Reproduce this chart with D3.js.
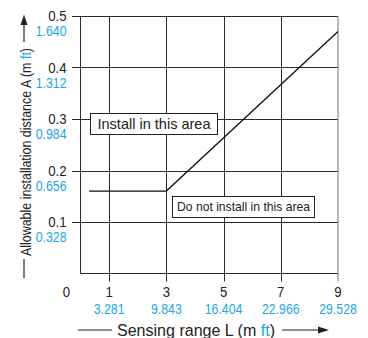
<!DOCTYPE html>
<html lang="en">
<head>
<meta charset="UTF-8" />
<title>Sensing range chart</title>
<style>
  * { margin: 0; padding: 0; }
  body { background: #fff; }
  svg { display: block; font-family: 'Liberation Sans', Arial, sans-serif; }
</style>
</head>
<body>
<svg id="chart" width="368" height="338"></svg>
<script src="https://d3js.org/d3.v7.min.js"></script>
<script>
// data
const xTicks = [1, 3, 5, 7, 9];
const xFtLabels = ['3.281', '9.843', '16.404', '22.966', '29.528'];
const yTicks = [0.1, 0.2, 0.3, 0.4, 0.5];
const yFtLabels = ['0.328', '0.656', '0.984', '1.312', '1.640'];
const lineX = [0.3, 3, 9];
const lineY = [0.16, 0.16, 0.47];

const blue = '#22a5e4';
const svg = d3.select('#chart');

const x = d3.scaleLinear().domain([0, 9]).range([80.5, 338]);
const y = d3.scaleLinear().domain([0, 0.5]).range([273.5, 16]);

// text squeezed horizontally, the source font is a bit narrow
function label(g, str, px, py, size, anchor, color, sx) {
  return g.append('text')
    .attr('transform', `translate(${px},${py}) scale(${sx || 0.88},1)`)
    .attr('text-anchor', anchor)
    .attr('font-size', size)
    .attr('fill', color || '#222')
    .text(str);
}

const grid = svg.append('g').attr('stroke', '#2a2a2a').attr('stroke-width', 1);

// horizontal grid + ticks to the left
grid.selectAll('line.h').data(yTicks).join('line')
  .attr('class', 'h')
  .attr('x1', 72).attr('x2', x(9))
  .attr('y1', d => Math.round(y(d)) + 0.5).attr('y2', d => Math.round(y(d)) + 0.5);

// vertical grid + ticks below
grid.selectAll('line.v').data(xTicks.slice(0, -1)).join('line')
  .attr('class', 'v')
  .attr('x1', d => Math.round(x(d)) + 0.5).attr('x2', d => Math.round(x(d)) + 0.5)
  .attr('y1', y(0.5)).attr('y2', y(0) + 8);

// frame
svg.append('line').attr('stroke', '#2a2a2a')
  .attr('x1', x(0)).attr('x2', x(0)).attr('y1', y(0.5)).attr('y2', y(0));
svg.append('line').attr('stroke', '#2a2a2a')
  .attr('x1', x(0)).attr('x2', x(9)).attr('y1', y(0)).attr('y2', y(0));
svg.append('line').attr('stroke', '#8a8a8a').attr('stroke-width', 1.2)
  .attr('x1', x(9)).attr('x2', x(9)).attr('y1', y(0.5)).attr('y2', y(0) + 8);

// the boundary line
const pts = lineX.map((d, i) => [d, lineY[i]]);
svg.append('path')
  .attr('d', d3.line().x(d => x(d[0])).y(d => y(d[1]))(pts))
  .attr('fill', 'none')
  .attr('stroke', '#111')
  .attr('stroke-width', 1.3);

// area boxes
function box(str, bx, by, bw, bh, size, tl) {
  svg.append('rect')
    .attr('x', bx + 0.5).attr('y', by + 0.5).attr('width', bw).attr('height', bh)
    .attr('fill', '#fff').attr('stroke', '#222').attr('stroke-width', 1);
  svg.append('text')
    .attr('x', bx + bw / 2 + 0.5).attr('y', by + bh / 2 + size * 0.36)
    .attr('text-anchor', 'middle')
    .attr('font-size', size)
    .attr('fill', '#222')
    .attr('textLength', tl)
    .attr('lengthAdjust', 'spacingAndGlyphs')
    .text(str);
}
box('Install in this area', 90, 113, 127, 21, 15, 113);
box('Do not install in this area', 172, 196, 142, 21, 13.5, 133);

// y tick labels
const yl = svg.append('g');
yTicks.forEach((d, i) => {
  label(yl, String(d), 66.5, y(d) + 5, 15, 'end');
  label(yl, yFtLabels[i], 66.5, y(d) + 20, 14, 'end', blue);
});

// x tick labels
const xl = svg.append('g');
label(xl, '0', 66.5, 297, 15, 'middle');
xTicks.forEach((d, i) => {
  label(xl, String(d), x(d), 297, 15, 'middle');
  label(xl, xFtLabels[i], x(d), 313.5, 14, 'middle', blue);
});

// axis titles
const ttl = svg.append('g').attr('fill', '#222');
const xt = ttl.append('text')
  .attr('x', 196).attr('y', 335.5)
  .attr('text-anchor', 'middle')
  .attr('font-size', 16)
  .attr('textLength', 158)
  .attr('lengthAdjust', 'spacingAndGlyphs');
xt.append('tspan').text('Sensing range L (m ');
xt.append('tspan').attr('fill', blue).text('ft');
xt.append('tspan').text(')');

svg.append('line').attr('stroke', '#222').attr('stroke-width', 1.2)
  .attr('x1', 78).attr('x2', 112).attr('y1', 330).attr('y2', 330);
svg.append('line').attr('stroke', '#222').attr('stroke-width', 1.2)
  .attr('x1', 282).attr('x2', 320).attr('y1', 330).attr('y2', 330);
svg.append('path').attr('d', 'M329,330 L318,326.5 L318,333.5 Z').attr('fill', '#222');

const yt = ttl.append('text')
  .attr('transform', 'translate(31,152) rotate(-90)')
  .attr('text-anchor', 'middle')
  .attr('font-size', 15)
  .attr('textLength', 208)
  .attr('lengthAdjust', 'spacingAndGlyphs');
yt.append('tspan').text('Allowable installation distance A (m ');
yt.append('tspan').attr('fill', blue).text('ft');
yt.append('tspan').text(')');

svg.append('line').attr('stroke', '#222').attr('stroke-width', 1.2)
  .attr('x1', 24).attr('x2', 24).attr('y1', 259).attr('y2', 278);
svg.append('line').attr('stroke', '#222').attr('stroke-width', 1.2)
  .attr('x1', 24).attr('x2', 24).attr('y1', 24).attr('y2', 42);
svg.append('path').attr('d', 'M24,14.5 L20.5,25 L27.5,25 Z').attr('fill', '#222');
</script>
</body>
</html>
